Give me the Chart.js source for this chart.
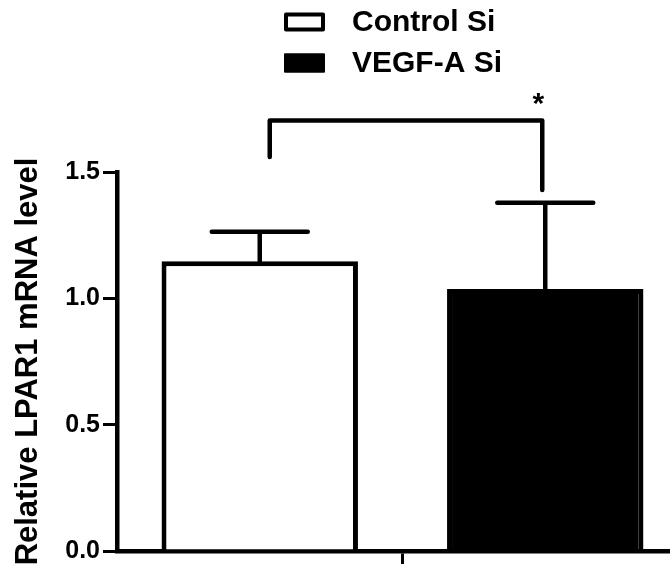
<!DOCTYPE html>
<html>
<head>
<meta charset="utf-8">
<script src="https://cdn.jsdelivr.net/npm/chart.js@4.4.1/dist/chart.umd.min.js"></script>
<style>
  html, body { margin: 0; padding: 0; background: #fff; overflow: hidden; }
  #wrap { width: 670px; height: 569px; overflow: hidden; }
</style>
</head>
<body>
<div id="wrap"><canvas id="barChart" width="688" height="569"></canvas></div>
<script>
const categories = [''];
const groupLabels = ['Control Si', 'VEGF-A Si'];
const means = [1.147, 1.037];
const errors = [0.117, 0.341];
const yTicks = [0, 0.5, 1.0, 1.5];
const yTitle = 'Relative LPAR1 mRNA level';
// significance bracket: top level, left/right end levels, star level
const bracketTop = 1.704;
const bracketEnds = [1.559, 1.429];
const starLevel = 1.79;
const starText = '*';

const FONT = "'Liberation Sans', Arial, Helvetica, sans-serif";

// error bars (upper only) + significance bracket
const annotations = {
    id: 'annotations',
    afterDatasetsDraw(chart) {
        const ctx = chart.ctx;
        const y = chart.scales.y;
        ctx.save();
        ctx.strokeStyle = '#000';
        ctx.lineWidth = 4.5;
        ctx.lineCap = 'round';
        ctx.lineJoin = 'round';
        const centers = [];
        chart.data.datasets.forEach((ds, i) => {
            const meta = chart.getDatasetMeta(i);
            meta.data.forEach((bar, j) => {
                centers.push(bar.x);
                const top = y.getPixelForValue(ds.data[j] + errors[i]);
                ctx.beginPath();
                ctx.moveTo(bar.x, bar.y);
                ctx.lineTo(bar.x, top);
                ctx.moveTo(bar.x - 48, top);
                ctx.lineTo(bar.x + 48, top);
                ctx.stroke();
            });
        });
        // bracket
        const xl = centers[0] + 10, xr = centers[1] - 3;
        ctx.beginPath();
        ctx.moveTo(xl, y.getPixelForValue(bracketEnds[0]));
        ctx.lineTo(xl, y.getPixelForValue(bracketTop));
        ctx.lineTo(xr, y.getPixelForValue(bracketTop));
        ctx.lineTo(xr, y.getPixelForValue(bracketEnds[1]));
        ctx.stroke();
        ctx.fillStyle = '#000';
        ctx.font = 'bold 30px ' + FONT;
        ctx.textAlign = 'center';
        ctx.textBaseline = 'middle';
        ctx.fillText(starText, xr - 4, y.getPixelForValue(starLevel) + 6);
        ctx.restore();
    }
};

// stacked legend at the top
const stackedLegend = {
    id: 'stackedLegend',
    afterDraw(chart) {
        const ctx = chart.ctx;
        ctx.save();
        ctx.font = 'bold 30px ' + FONT;
        ctx.textBaseline = 'middle';
        ctx.textAlign = 'left';
        chart.data.datasets.forEach((ds, i) => {
            const cy = 21.5 + i * 41;
            ctx.fillStyle = ds.backgroundColor;
            ctx.fillRect(284, cy - 9, 41, 19);
            ctx.strokeStyle = '#000';
            ctx.lineWidth = 4;
            ctx.lineJoin = 'round';
            ctx.strokeRect(286, cy - 7, 37, 15);
            ctx.fillStyle = '#000';
            ctx.fillText(ds.label, 352, cy + 1);
        });
        ctx.restore();
    }
};

new Chart(document.getElementById('barChart'), {
    type: 'bar',
    data: {
        labels: categories,
        datasets: groupLabels.map((label, i) => ({
            label: label,
            data: [means[i]],
            backgroundColor: i === 0 ? '#ffffff' : '#000000',
            borderColor: '#000000',
            borderWidth: 5,
            categoryPercentage: 1.0,
            barPercentage: 0.688
        }))
    },
    options: {
        responsive: false,
        animation: false,
        devicePixelRatio: 1,
        layout: { padding: { top: 172, left: 0, right: 0, bottom: 0 } },
        plugins: {
            legend: { display: false },
            tooltip: { enabled: false }
        },
        scales: {
            x: {
                offset: true,
                grid: { display: true, drawOnChartArea: false, offset: false, tickLength: 13, lineWidth: 3, color: '#000' },
                border: { display: true, width: 4.5, color: '#000' },
                ticks: { display: false },
                afterFit(scale) { scale.height = 15; }
            },
            y: {
                min: 0,
                max: 1.5,
                afterBuildTicks(scale) { scale.ticks = yTicks.map(v => ({ value: v })); },
                grid: { display: true, drawOnChartArea: false, tickLength: 14, lineWidth: 3, color: '#000' },
                border: { display: true, width: 4.5, color: '#000' },
                ticks: {
                    color: '#000',
                    padding: 3,
                    font: { family: FONT, size: 25, weight: 'bold' },
                    callback: v => Number(v).toFixed(1)
                },
                title: {
                    display: true,
                    text: yTitle,
                    color: '#000',
                    font: { family: FONT, size: 31, weight: 'bold' },
                    padding: { top: 10, bottom: 0 }
                },
                afterFit(scale) { scale.width = 117; }
            }
        }
    },
    plugins: [annotations, stackedLegend]
});
</script>
</body>
</html>
